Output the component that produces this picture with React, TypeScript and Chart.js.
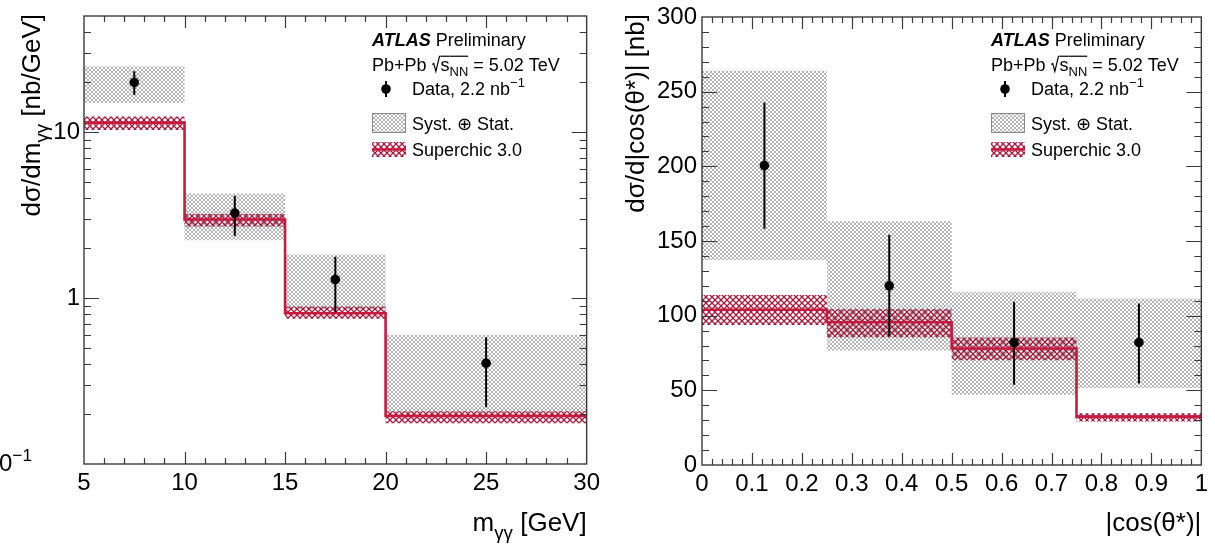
import React, { useEffect, useRef } from "react";
import { Chart, registerables } from "chart.js";

Chart.register(...registerables);

const FONT = "'Liberation Sans', Arimo, Arial, Helvetica, 'DejaVu Sans', sans-serif";
const TICK_SIZE = 24;
const TITLE_SIZE = 26;
const LEG_SIZE = 18;
const SC_COLOR = "#c61a3e";

// ---------- Left panel: dσ/dm_γγ ----------
const M_EDGES = [5, 10, 15, 20, 30];
const M_CENTERS = [7.5, 12.5, 17.5, 25];
const M_DATA = [19.9, 3.25, 1.29, 0.405];
const M_STAT_HI = [23.2, 4.13, 1.77, 0.58];
const M_STAT_LO = [16.7, 2.36, 0.82, 0.22];
const M_SYST_HI = [24.9, 4.26, 1.83, 0.6];
const M_SYST_LO = [15.0, 2.23, 0.86, 0.205];
const M_SC = [11.4, 2.97, 0.81, 0.195];
const M_SC_HI = [12.4, 3.21, 0.89, 0.208];
const M_SC_LO = [10.3, 2.7, 0.75, 0.176];
const M_X_MAJOR = [5, 10, 15, 20, 25, 30];
const M_Y_MAJOR = [0.1, 1, 10];

// ---------- Right panel: dσ/d|cos(θ*)| ----------
const C_EDGES = [0, 0.25, 0.5, 0.75, 1];
const C_CENTERS = [0.125, 0.375, 0.625, 0.875];
const C_DATA = [200.5, 120, 82, 82];
const C_STAT_HI = [242.7, 154, 109.3, 108.2];
const C_STAT_LO = [158.2, 86.2, 53.7, 54.5];
const C_SYST_HI = [264, 163.3, 116, 111.5];
const C_SYST_LO = [137.3, 76.7, 47, 51.5];
const C_SC = [104, 95.6, 78, 32.4];
const C_SC_HI = [113.8, 104.4, 85.3, 34.6];
const C_SC_LO = [93.8, 85.6, 70.1, 29.2];
const C_X_MAJOR = [0, 0.1, 0.2, 0.3, 0.4, 0.5, 0.6, 0.7, 0.8, 0.9, 1];
const C_Y_MAJOR = [0, 50, 100, 150, 200, 250, 300];

type Seg = { t: string; k?: "sub" | "sup"; b?: boolean; i?: boolean; bar?: boolean; rad?: boolean };

function segFont(s: Seg, size: number) {
  const px = s.k ? size * 0.72 : size;
  return `${s.i ? "italic " : ""}${s.b ? "bold " : ""}${px}px ${FONT}`;
}
function segW(ctx: CanvasRenderingContext2D, s: Seg, size: number) {
  if (s.rad) return size * 0.5;
  ctx.font = segFont(s, size);
  return ctx.measureText(s.t).width;
}
function richWidth(ctx: CanvasRenderingContext2D, segs: Seg[], size: number) {
  return segs.reduce((w, s) => w + segW(ctx, s, size), 0);
}
function drawRich(
  ctx: CanvasRenderingContext2D,
  segs: Seg[],
  x: number,
  y: number,
  size: number,
  align: "left" | "right" = "left"
) {
  ctx.textAlign = "left";
  ctx.textBaseline = "alphabetic";
  let cx = align === "right" ? x - richWidth(ctx, segs, size) : x;
  const col = ctx.fillStyle as string;
  for (const s of segs) {
    const w = segW(ctx, s, size);
    if (s.rad) {
      ctx.save();
      ctx.lineWidth = 1.2;
      ctx.strokeStyle = col;
      ctx.beginPath();
      ctx.moveTo(cx + 0.04 * size, y - 0.36 * size);
      ctx.lineTo(cx + 0.12 * size, y - 0.42 * size);
      ctx.lineTo(cx + 0.24 * size, y + 0.02 * size);
      ctx.lineTo(cx + 0.44 * size, y - 0.82 * size);
      ctx.lineTo(cx + 0.5 * size, y - 0.82 * size);
      ctx.stroke();
      ctx.restore();
    } else {
      ctx.font = segFont(s, size);
      const dy = s.k === "sub" ? 0.3 * size : s.k === "sup" ? -0.42 * size : 0;
      ctx.fillText(s.t, cx, y + dy);
      if (s.bar) {
        ctx.save();
        ctx.lineWidth = 1.2;
        ctx.strokeStyle = col;
        ctx.beginPath();
        ctx.moveTo(cx, y - 0.82 * size);
        ctx.lineTo(cx + w, y - 0.82 * size);
        ctx.stroke();
        ctx.restore();
      }
    }
    cx += w;
  }
}

function makeHatch(size: number, color: string, lw: number): CanvasPattern | string {
  const c = document.createElement("canvas");
  c.width = size;
  c.height = size;
  const g = c.getContext("2d");
  if (!g) return color;
  g.strokeStyle = color;
  g.lineWidth = lw;
  g.beginPath();
  g.moveTo(0, 0);
  g.lineTo(size, size);
  g.moveTo(size, 0);
  g.lineTo(0, size);
  g.stroke();
  const p = g.createPattern(c, "repeat");
  return p || color;
}

interface PanelDef {
  edges: number[];
  centers: number[];
  data: number[];
  statHi: number[];
  statLo: number[];
  systHi: number[];
  systLo: number[];
  sc: number[];
  scHi: number[];
  scLo: number[];
  log: boolean;
  xMin: number;
  xMax: number;
  yMin: number;
  yMax: number;
  xTicks: number[];
  yTicks: number[];
  isMajorX: (v: number) => boolean;
  isMajorY: (v: number) => boolean;
  xLabel: (v: number) => string;
  yLabel: (v: number) => string;
  yW: number;
  xH: number;
  padTop: number;
  padRight: number;
  yLabelPad: number;
  yTitle: Seg[];
  xTitle: Seg[];
  yTitleX: number;
  legendX: number;
  extra?: (ctx: CanvasRenderingContext2D, chart: any) => void;
}

const near = (a: number, b: number) => Math.abs(a - b) < 1e-9 * Math.max(1, Math.abs(b));

function range(a: number, b: number, n: number) {
  const out: number[] = [];
  for (let k = 0; k <= n; k++) out.push(Math.round((a + ((b - a) * k) / n) * 1e6) / 1e6);
  return out;
}

function logTicks(decades: number[], max: number) {
  const out: number[] = [];
  for (const d of decades) for (let m = 1; m <= 9; m++) if (d * m <= max + 1e-9) out.push(Math.round(d * m * 1e6) / 1e6);
  return out;
}

const LEFT: PanelDef = {
  edges: M_EDGES,
  centers: M_CENTERS,
  data: M_DATA,
  statHi: M_STAT_HI,
  statLo: M_STAT_LO,
  systHi: M_SYST_HI,
  systLo: M_SYST_LO,
  sc: M_SC,
  scHi: M_SC_HI,
  scLo: M_SC_LO,
  log: true,
  xMin: 5,
  xMax: 30,
  yMin: 0.1,
  yMax: 50,
  xTicks: range(5, 30, 25),
  yTicks: logTicks(M_Y_MAJOR, 50),
  isMajorX: (v) => M_X_MAJOR.some((m) => near(v, m)),
  isMajorY: (v) => M_Y_MAJOR.some((m) => near(v, m)),
  xLabel: (v) => (M_X_MAJOR.some((m) => near(v, m)) ? String(v) : ""),
  yLabel: (v) => (near(v, 1) ? "1" : near(v, 10) ? "10" : ""),
  yW: 84,
  xH: 80,
  padTop: 14,
  padRight: 19,
  yLabelPad: 4,
  yTitle: [{ t: "dσ/dm" }, { t: "γγ", k: "sub" }, { t: " [nb/GeV]" }],
  xTitle: [{ t: "m" }, { t: "γγ", k: "sub" }, { t: " [GeV]" }],
  yTitleX: 40,
  legendX: 372,
  extra: (ctx, chart) => {
    const y = chart.scales.y.getPixelForValue(0.1);
    ctx.fillStyle = "#000";
    drawRich(ctx, [{ t: "10" }, { t: "−1", k: "sup" }], 32, y + 7, TICK_SIZE, "right");
  },
};

const RIGHT: PanelDef = {
  edges: C_EDGES,
  centers: C_CENTERS,
  data: C_DATA,
  statHi: C_STAT_HI,
  statLo: C_STAT_LO,
  systHi: C_SYST_HI,
  systLo: C_SYST_LO,
  sc: C_SC,
  scHi: C_SC_HI,
  scLo: C_SC_LO,
  log: false,
  xMin: 0,
  xMax: 1,
  yMin: 0,
  yMax: 300,
  xTicks: range(0, 1, 50),
  yTicks: range(0, 300, 30),
  isMajorX: (v) => C_X_MAJOR.some((m) => near(v, m)),
  isMajorY: (v) => C_Y_MAJOR.some((m) => near(v, m)),
  xLabel: (v) => {
    const m = C_X_MAJOR.find((q) => near(v, q));
    if (m === undefined) return "";
    return m === 0 ? "0" : m === 1 ? "1" : m.toFixed(1);
  },
  yLabel: (v) => {
    const m = C_Y_MAJOR.find((q) => near(v, q));
    return m === undefined ? "" : String(m);
  },
  yW: 95,
  xH: 79,
  padTop: 15,
  padRight: 9,
  yLabelPad: 5,
  yTitle: [{ t: "dσ/d|cos(θ*)| [nb]" }],
  xTitle: [{ t: "|cos(θ*)|" }],
  yTitleX: 37,
  legendX: 384,
};

function stepPoints(edges: number[], vals: number[]) {
  return edges.map((x, i) => ({ x, y: vals[Math.min(i, vals.length - 1)] }));
}

function makeConfig(p: PanelDef, grey: CanvasPattern | string, red: CanvasPattern | string): any {
  const datasets: any[] = [];
  // data points
  datasets.push({
    label: "Data",
    data: p.centers.map((x, i) => ({ x, y: p.data[i] })),
    showLine: false,
    pointRadius: 4.8,
    pointBackgroundColor: "#000",
    pointBorderWidth: 0,
    borderColor: "#000",
    order: 0,
  });
  // error bars
  p.centers.forEach((x, i) => {
    datasets.push({
      label: "err" + i,
      data: [
        { x, y: p.statLo[i] },
        { x, y: p.statHi[i] },
      ],
      borderColor: "#000",
      borderWidth: 2,
      pointRadius: 0,
      fill: false,
      order: 1,
    });
  });
  // Superchic central line
  datasets.push({
    label: "Superchic",
    data: stepPoints(p.edges, p.sc),
    stepped: true,
    borderColor: SC_COLOR,
    borderWidth: 2.6,
    pointRadius: 0,
    fill: false,
    order: 2,
  });
  const scLoIdx = datasets.length;
  datasets.push({
    label: "scLo",
    data: stepPoints(p.edges, p.scLo),
    stepped: true,
    borderWidth: 0,
    borderColor: "transparent",
    pointRadius: 0,
    fill: false,
    order: 3,
  });
  datasets.push({
    label: "scHi",
    data: stepPoints(p.edges, p.scHi),
    stepped: true,
    borderWidth: 0,
    borderColor: "transparent",
    backgroundColor: red,
    pointRadius: 0,
    fill: scLoIdx,
    order: 3,
  });
  const syLoIdx = datasets.length;
  datasets.push({
    label: "systLo",
    data: stepPoints(p.edges, p.systLo),
    stepped: true,
    borderWidth: 0,
    borderColor: "transparent",
    pointRadius: 0,
    fill: false,
    order: 4,
  });
  datasets.push({
    label: "systHi",
    data: stepPoints(p.edges, p.systHi),
    stepped: true,
    borderWidth: 0,
    borderColor: "transparent",
    backgroundColor: grey,
    pointRadius: 0,
    fill: syLoIdx,
    order: 4,
  });

  const tickFont = { family: FONT, size: TICK_SIZE, lineHeight: 1 };

  const overlay = {
    id: "rootStyle",
    afterDatasetsDraw(chart: any) {
      const { ctx, chartArea: a } = chart;
      const x = chart.scales.x;
      const y = chart.scales.y;
      ctx.save();
      ctx.strokeStyle = "#3a3a3a";
      ctx.lineWidth = 1.4;
      ctx.strokeRect(a.left, a.top, a.right - a.left, a.bottom - a.top);
      ctx.beginPath();
      for (const v of p.xTicks) {
        if (v <= p.xMin || v >= p.xMax) continue;
        const px = Math.round(x.getPixelForValue(v)) + 0.5;
        const L = p.isMajorX(v) ? 12 : 6;
        ctx.moveTo(px, a.bottom);
        ctx.lineTo(px, a.bottom - L);
        ctx.moveTo(px, a.top);
        ctx.lineTo(px, a.top + L);
      }
      for (const v of p.yTicks) {
        if (v <= p.yMin || v >= p.yMax) continue;
        const py = Math.round(y.getPixelForValue(v)) + 0.5;
        const L = p.isMajorY(v) ? 15 : 7;
        ctx.moveTo(a.left, py);
        ctx.lineTo(a.left + L, py);
        ctx.moveTo(a.right, py);
        ctx.lineTo(a.right - L, py);
      }
      ctx.lineWidth = 1.2;
      ctx.stroke();
      ctx.restore();
    },
    afterDraw(chart: any) {
      const { ctx, chartArea: a } = chart;
      ctx.save();
      ctx.fillStyle = "#000";
      // axis titles
      drawRich(ctx, p.xTitle, a.right, 531, TITLE_SIZE, "right");
      const w = richWidth(ctx, p.yTitle, TITLE_SIZE);
      ctx.save();
      ctx.translate(p.yTitleX, 14 + w);
      ctx.rotate(-Math.PI / 2);
      drawRich(ctx, p.yTitle, 0, 0, TITLE_SIZE);
      ctx.restore();
      // legend
      const ox = p.legendX;
      ctx.fillStyle = "#000";
      drawRich(ctx, [{ t: "ATLAS", b: true, i: true }, { t: " Preliminary" }], ox, 46, LEG_SIZE);
      drawRich(
        ctx,
        [
          { t: "Pb+Pb " },
          { t: "", rad: true },
          { t: "s", bar: true },
          { t: "NN", k: "sub", bar: true },
          { t: " = 5.02 TeV" },
        ],
        ox,
        71,
        LEG_SIZE
      );
      const mx = ox + 14;
      const my = 89;
      ctx.strokeStyle = "#000";
      ctx.lineWidth = 2;
      ctx.beginPath();
      ctx.moveTo(mx, my - 8);
      ctx.lineTo(mx, my + 8);
      ctx.stroke();
      ctx.beginPath();
      ctx.arc(mx, my, 4.8, 0, Math.PI * 2);
      ctx.fill();
      drawRich(ctx, [{ t: "Data, 2.2 nb" }, { t: "−1", k: "sup" }], ox + 40, 95, LEG_SIZE);
      ctx.fillStyle = grey as any;
      ctx.fillRect(ox, 113, 34, 20);
      ctx.strokeStyle = "#8a8a8a";
      ctx.lineWidth = 1;
      ctx.strokeRect(ox + 0.5, 113.5, 33, 19);
      ctx.fillStyle = "#000";
      drawRich(ctx, [{ t: "Syst. ⊕ Stat." }], ox + 40, 130, LEG_SIZE);
      ctx.fillStyle = red as any;
      ctx.fillRect(ox, 142, 34, 15);
      ctx.strokeStyle = SC_COLOR;
      ctx.lineWidth = 2.5;
      ctx.beginPath();
      ctx.moveTo(ox, 149.5);
      ctx.lineTo(ox + 34, 149.5);
      ctx.stroke();
      ctx.fillStyle = "#000";
      drawRich(ctx, [{ t: "Superchic 3.0" }], ox + 40, 156, LEG_SIZE);
      if (p.extra) p.extra(ctx, chart);
      ctx.restore();
    },
  };

  return {
    type: "line",
    data: { datasets },
    options: {
      responsive: false,
      animation: false,
      devicePixelRatio: 1,
      events: [],
      layout: { padding: { top: p.padTop, right: p.padRight, bottom: 0, left: 0 } },
      plugins: {
        legend: { display: false },
        tooltip: { enabled: false },
        filler: { propagate: false },
      },
      scales: {
        x: {
          type: "linear",
          min: p.xMin,
          max: p.xMax,
          afterBuildTicks: (s: any) => {
            s.ticks = p.xTicks.map((v) => ({ value: v }));
          },
          afterFit: (s: any) => {
            s.height = p.xH;
          },
          grid: { display: false, drawTicks: false },
          border: { display: false },
          ticks: {
            autoSkip: false,
            maxRotation: 0,
            minRotation: 0,
            padding: 7,
            color: "#000",
            font: tickFont,
            callback: (v: number) => p.xLabel(v),
          },
        },
        y: {
          type: p.log ? "logarithmic" : "linear",
          min: p.yMin,
          max: p.yMax,
          afterBuildTicks: (s: any) => {
            s.ticks = p.yTicks.map((v) => ({ value: v }));
          },
          afterFit: (s: any) => {
            s.width = p.yW;
          },
          grid: { display: false, drawTicks: false },
          border: { display: false },
          ticks: {
            autoSkip: false,
            padding: p.yLabelPad,
            color: "#000",
            font: tickFont,
            callback: (v: number) => p.yLabel(v),
          },
        },
      },
    },
    plugins: [overlay],
  };
}

export default function App() {
  const lRef = useRef<HTMLCanvasElement>(null);
  const rRef = useRef<HTMLCanvasElement>(null);
  useEffect(() => {
    const grey = makeHatch(4, "#b4b4b4", 1);
    const red = makeHatch(6, "#a11c3e", 1.3);
    const charts: Chart[] = [];
    if (lRef.current) charts.push(new Chart(lRef.current, makeConfig(LEFT, grey, red)));
    if (rRef.current) charts.push(new Chart(rRef.current, makeConfig(RIGHT, grey, red)));
    return () => charts.forEach((c) => c.destroy());
  }, []);
  return (
    <div
      style={{
        position: "absolute",
        left: 0,
        top: 0,
        width: 1215,
        height: 544,
        background: "#fff",
        overflow: "hidden",
      }}
    >
      <canvas
        ref={lRef}
        width={607}
        height={544}
        style={{ position: "absolute", left: 0, top: 0, width: 607, height: 544 }}
      />
      <canvas
        ref={rRef}
        width={608}
        height={544}
        style={{ position: "absolute", left: 607, top: 0, width: 608, height: 544 }}
      />
    </div>
  );
}
